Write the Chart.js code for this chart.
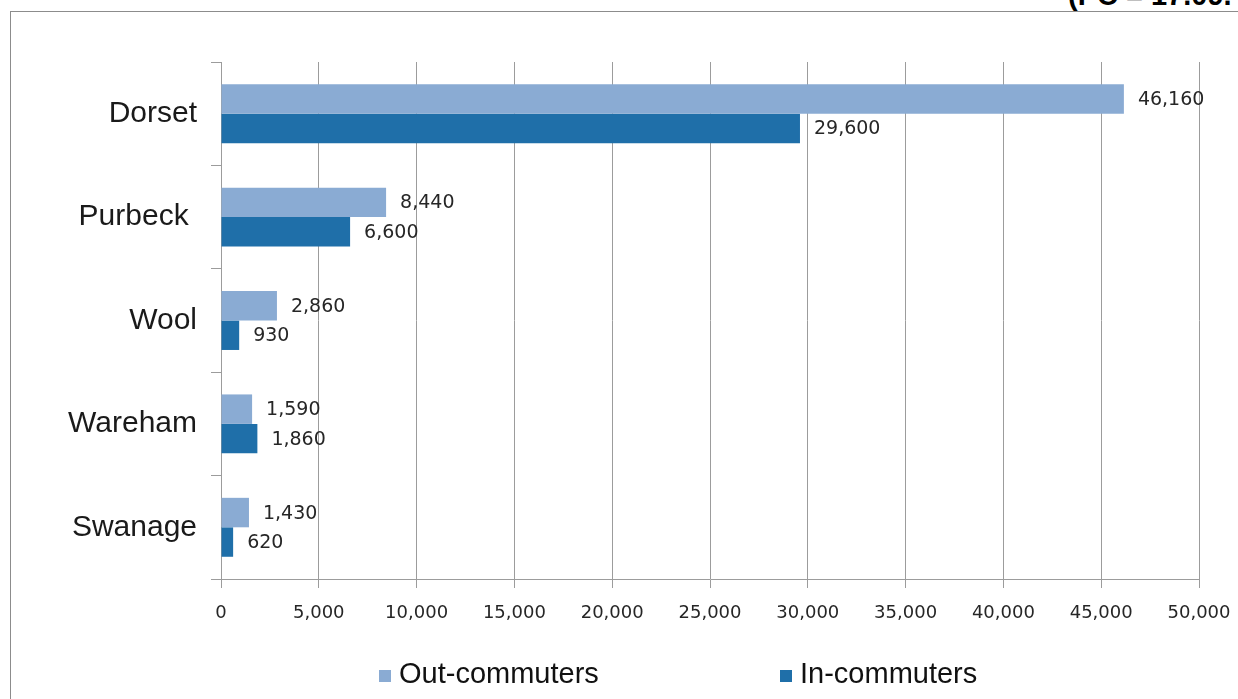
<!DOCTYPE html>
<html>
<head>
<meta charset="utf-8">
<script src="https://cdn.jsdelivr.net/npm/chart.js@4/dist/chart.umd.min.js"></script>
<style>
  html, body { margin: 0; padding: 0; background: #fff; overflow: hidden; }
  body { width: 1238px; height: 699px; position: relative; }
  #frame { position: absolute; left: 10px; top: 11px; width: 1300px; height: 800px; border: 1px solid #8c8c8c; box-sizing: border-box; }
  #note { position: absolute; left: 1068px; top: -19px; font: bold 29px "Liberation Sans", Arial, sans-serif; line-height: 28px; color: #000; white-space: nowrap; }
  #wrap { position: absolute; left: 0; top: 0; width: 1238px; height: 699px; }
  .leg { position: absolute; top: 655px; font: 29px "Liberation Sans", Arial, sans-serif; color: #111; white-space: nowrap; line-height: 36px; }
  .leg i { display: inline-block; width: 12px; height: 12px; margin-right: 8px; vertical-align: 1px; }
</style>
</head>
<body>
<div id="frame"></div>
<div id="note">(PC = 17.09.</div>
<div id="wrap"><canvas id="chart" width="1238" height="699"></canvas></div>
<div id="legend"></div>

<script>
const categories = ["Dorset", "Purbeck ", "Wool", "Wareham", "Swanage"];
const outCommuters = [46160, 8440, 2860, 1590, 1430];
const inCommuters = [29600, 6600, 930, 1860, 620];
const seriesNames = ["Out-commuters", "In-commuters"];
const seriesColors = ["#8aabd3", "#1f6fa9"];
const legendLeft = [379, 780];

const gridGray = "#9c9c9c";
const fmt = v => v.toLocaleString("en-US");

// value labels at the end of each bar
const barLabels = {
    id: "barLabels",
    afterDatasetsDraw(chart) {
        const ctx = chart.ctx;
        ctx.save();
        ctx.font = '19px "DejaVu Sans", sans-serif';
        ctx.fillStyle = "#262626";
        ctx.textAlign = "left";
        ctx.textBaseline = "middle";
        chart.data.datasets.forEach((ds, i) => {
            chart.getDatasetMeta(i).data.forEach((bar, j) => {
                ctx.fillText(fmt(ds.data[j]), bar.x + 14, bar.y + 1);
            });
        });
        ctx.restore();
    }
};

new Chart(document.getElementById("chart"), {
    type: "bar",
    data: {
        labels: categories,
        datasets: [
            { label: seriesNames[0], data: outCommuters, backgroundColor: seriesColors[0] },
            { label: seriesNames[1], data: inCommuters, backgroundColor: seriesColors[1] }
        ]
    },
    options: {
        indexAxis: "y",
        responsive: false,
        animation: false,
        categoryPercentage: 0.57,
        barPercentage: 1.0,
        layout: { padding: { top: 62, right: 39, left: 0, bottom: 0 } },
        plugins: { legend: { display: false }, tooltip: { enabled: false } },
        scales: {
            x: {
                min: 0, max: 50000,
                afterFit(axis) { axis.height = 120; axis.paddingLeft = 0; axis.paddingRight = 0; },
                grid: { color: gridGray, tickColor: gridGray, tickLength: 9, lineWidth: 1 },
                border: { color: gridGray },
                ticks: {
                    stepSize: 5000,
                    padding: 15,
                    maxRotation: 0,
                    color: "#262626",
                    font: { family: "DejaVu Sans", size: 18 },
                    callback: v => fmt(v)
                }
            },
            y: {
                afterFit(axis) { axis.width = 221; axis.paddingTop = 0; axis.paddingBottom = 0; },
                grid: { offset: true, drawOnChartArea: false, color: gridGray, tickColor: gridGray, tickLength: 10 },
                border: { color: gridGray },
                ticks: {
                    padding: 14,
                    color: "#1a1a1a",
                    font: { family: "Liberation Sans", size: 30 }
                }
            }
        }
    },
    plugins: [barLabels]
});

// legend built from the series names and colours
const legend = document.getElementById("legend");
seriesNames.forEach((name, i) => {
    const d = document.createElement("div");
    d.className = "leg";
    d.style.left = legendLeft[i] + "px";
    d.innerHTML = '<i style="background:' + seriesColors[i] + '"></i>' + name;
    legend.appendChild(d);
});
</script>
</body>
</html>
